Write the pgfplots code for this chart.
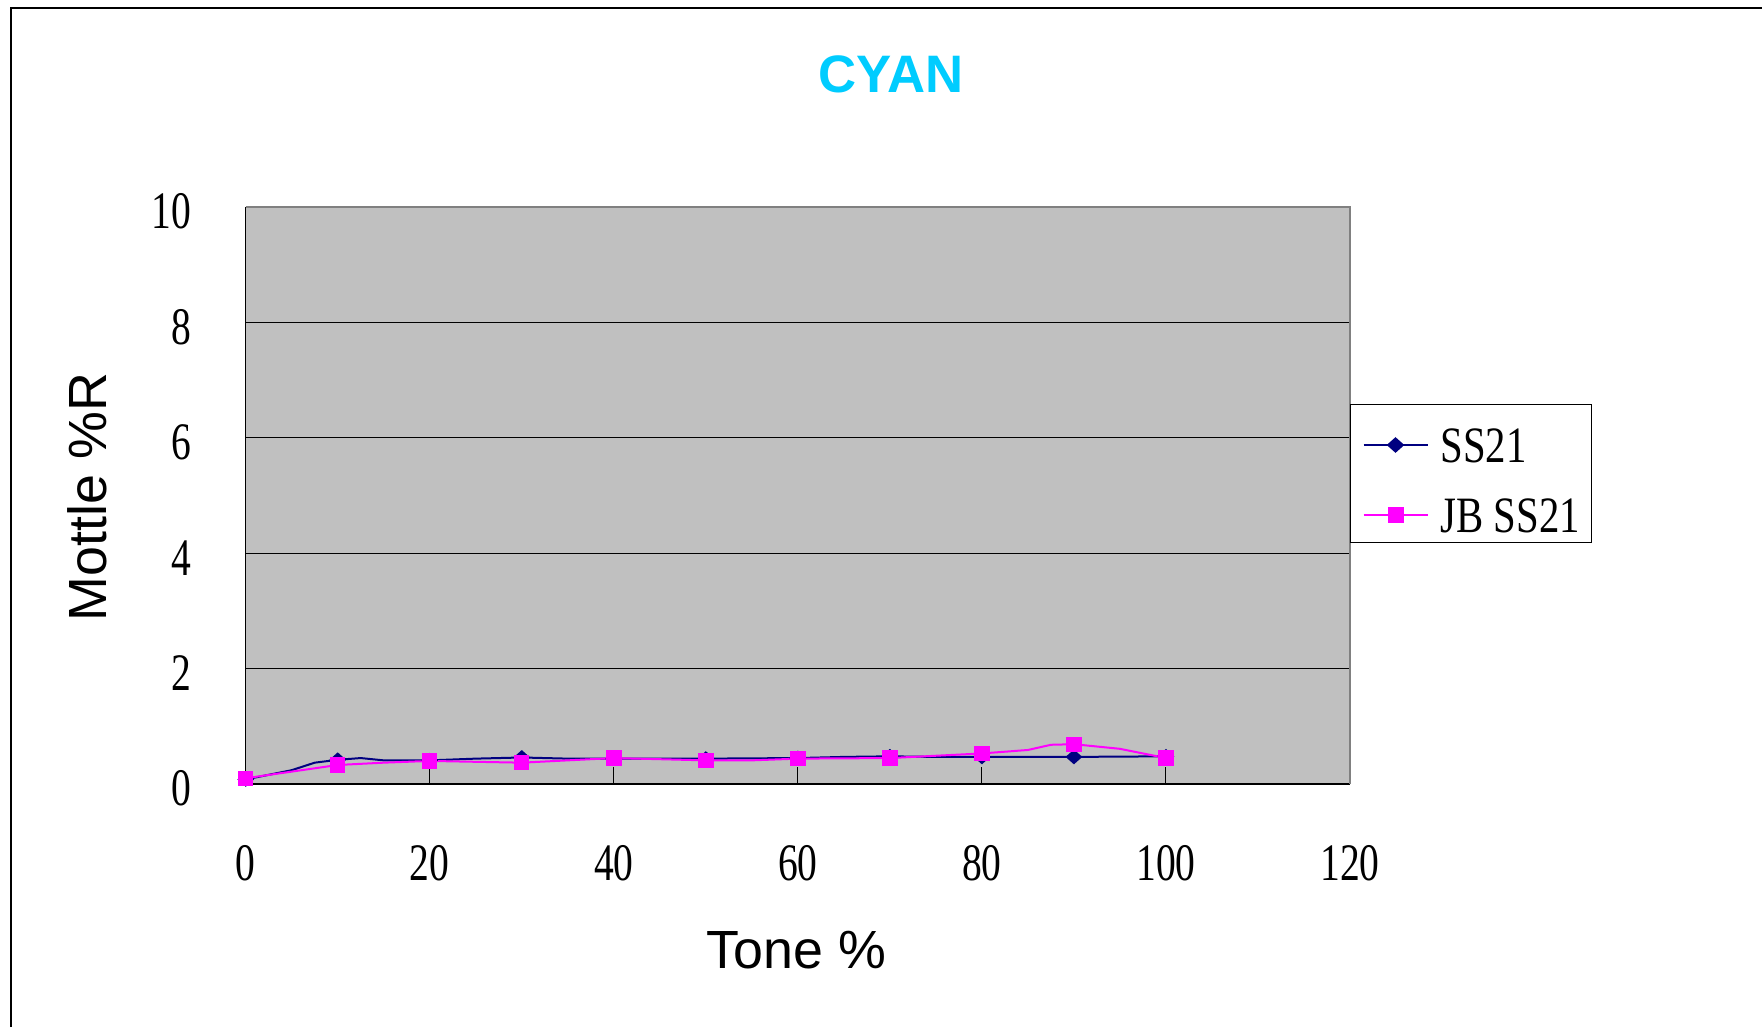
\documentclass[border=0pt]{standalone}
\usepackage{pgfplots}
\usepackage{pgfplotstable}
\pgfplotsset{compat=1.18}
\usepackage{fontspec}
\setmainfont{Liberation Serif}
\newfontfamily\serifc[FakeStretch=0.75]{Liberation Serif}
\newfontfamily\serifl[FakeStretch=0.8]{Liberation Serif}
\newfontfamily\arialf{Liberation Sans}
\newcommand\tickfont{\serifc\fontsize{15pt}{18pt}\selectfont}
\newcommand\legfont{\serifl\fontsize{14.5pt}{17pt}\selectfont}
\newcommand\labfont{\arialf\fontsize{15.3pt}{18pt}\selectfont}
\newcommand\titfont{\arialf\bfseries\fontsize{15pt}{18pt}\selectfont}
\definecolor{navyx}{RGB}{0,0,128}
\definecolor{magx}{RGB}{255,0,255}
\definecolor{cyanx}{RGB}{0,204,255}
\definecolor{plotbg}{RGB}{192,192,192}
\definecolor{bordergrey}{RGB}{128,128,128}

\pgfplotstableread{
x y
0 0.08
5 0.24
7.5 0.37
10 0.42
12.5 0.45
15 0.41
20 0.41
25 0.44
30 0.46
35 0.44
40 0.44
50 0.44
60 0.45
65 0.47
70 0.48
75 0.47
80 0.47
90 0.47
100 0.48
}\ssline
\pgfplotstableread{
x y
0 0.08
10 0.42
20 0.41
30 0.46
40 0.44
50 0.44
60 0.45
70 0.48
80 0.47
90 0.47
100 0.48
}\ssmark
\pgfplotstableread{
x y
0 0.10
10 0.33
15 0.37
20 0.40
30 0.37
40 0.45
50 0.41
55 0.41
60 0.44
70 0.45
80 0.53
85 0.59
87.5 0.68
90 0.69
95 0.61
100 0.45
}\jbline
\pgfplotstableread{
x y
0 0.10
10 0.33
20 0.40
30 0.37
40 0.45
50 0.41
60 0.44
70 0.45
80 0.53
90 0.69
100 0.45
}\jbmark

\begin{document}
\begin{tikzpicture}
\useasboundingbox (0,0) rectangle (176.2mm,-102.7mm);
\fill[white] (0,0) rectangle (176.2mm,-102.7mm);
\draw[black, line width=0.18mm] (1.1mm,-102.7mm) -- (1.1mm,-0.8mm) -- (176.2mm,-0.8mm);
\begin{axis}[
  at={(24.57mm,-78.4mm)}, anchor=south west,
  scale only axis, width=110.43mm, height=57.7mm,
  xmin=0, xmax=120, ymin=0, ymax=10,
  axis lines=left, axis line style={-, black, line width=0.15mm},
  axis background/.style={fill=plotbg},
  xtick={0,20,...,120}, ytick={0,2,...,10},
  tick align=inside, major tick length=1.7mm,
  tick style={black, line width=0.1mm},
  ymajorgrids, grid style={black, line width=0.1mm},
  /pgf/number format/assume math mode=true,
  ticklabel style={font=\tickfont, inner sep=0pt},
  xticklabel style={anchor=center, yshift=-7.9mm},
  yticklabel style={anchor=east, xshift=-5.4mm, yshift=-0.45mm},
  xlabel={Tone \%}, ylabel={Mottle \%R},
  xlabel style={at={(axis description cs:0.4985,-0.2875)}, anchor=center, font=\labfont, inner sep=0pt},
  ylabel style={at={(axis description cs:-0.143,0.4974)}, anchor=center, font=\labfont, inner sep=0pt},
  title={CYAN},
  title style={at={(axis description cs:0.5845,1.194)}, anchor=center, font=\titfont, text=cyanx, inner sep=0pt},
  clip=false,
  legend style={at={(axis description cs:1,0.6586)}, anchor=north west, draw=black, line width=0.1mm, fill=white,
    inner xsep=1.2mm, inner ysep=0.5mm, row sep=1.2mm,
    cells={anchor=base west},
    nodes={inner sep=0pt, text height=5.3mm, text depth=0.5mm, font=\legfont},
    /tikz/every odd column/.append style={column sep=1.2mm}},
  legend image code/.code={\draw[mark repeat=2,mark phase=2,#1] plot coordinates {(0mm,1.75mm) (3.2mm,1.75mm) (6.4mm,1.75mm)};},
]
\addplot[navyx, line width=0.2mm, forget plot] table {\ssline};
\addplot[navyx, only marks, mark=diamond*, mark size=0.65mm, mark options={fill=navyx, draw=navyx, xscale=1.5}, forget plot] table {\ssmark};
\addplot[magx, line width=0.2mm, forget plot] table {\jbline};
\addplot[magx, only marks, mark=square*, mark size=0.7mm, mark options={fill=magx, draw=magx}, forget plot] table {\jbmark};
\draw[bordergrey, line width=0.15mm] (rel axis cs:0,1) -- (rel axis cs:1,1) -- (rel axis cs:1,0);
\addlegendimage{navyx, line width=0.2mm, mark=diamond*, mark size=0.65mm, mark options={fill=navyx, draw=navyx, xscale=1.5}}
\addlegendentry{SS21}
\addlegendimage{magx, line width=0.2mm, mark=square*, mark size=0.7mm, mark options={fill=magx, draw=magx}}
\addlegendentry{JB SS21}
\end{axis}
\end{tikzpicture}
\end{document}
